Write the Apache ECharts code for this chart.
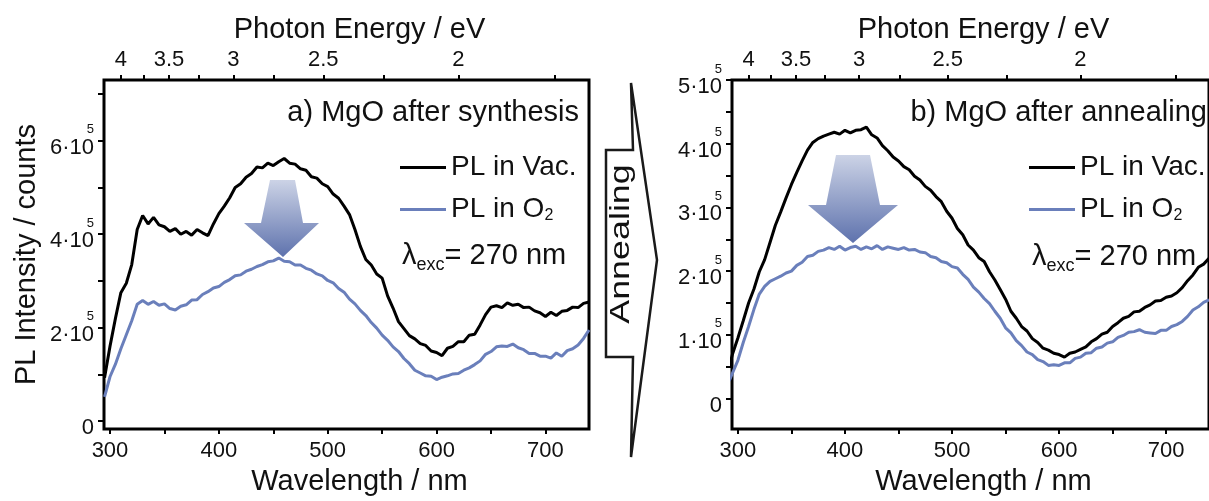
<!DOCTYPE html>
<html>
<head>
<meta charset="utf-8">
<script src="https://cdn.jsdelivr.net/npm/echarts@6/dist/echarts.min.js"></script>
<style>
  html, body { margin: 0; padding: 0; background: #fff; }
  #chart { width: 1209px; height: 501px; }
</style>
</head>
<body>
<div id="chart"></div>
<script>
// wavelength grid (nm), shared by both panels
const waveA = [295, 300, 305, 310, 315, 320, 325, 330, 335, 340, 345, 350, 355, 360, 365, 370, 375, 380, 385, 390,
  395, 400, 405, 410, 415, 420, 425, 430, 435, 440, 445, 450, 455, 460, 465, 470, 475, 480, 485, 490,
  495, 500, 505, 510, 515, 520, 525, 530, 535, 540, 545, 550, 555, 560, 565, 570, 575, 580, 585, 590,
  595, 600, 605, 610, 615, 620, 625, 630, 635, 640, 645, 650, 655, 660, 665, 670, 675, 680, 685, 690,
  695, 700, 705, 710, 715, 720, 725, 730, 735, 740];
const waveB = [292].concat(waveA);

// PL intensity in units of 1e5 counts
// a) after synthesis
const vacA = [0.93, 1.6, 2.2, 2.75, 2.95, 3.35, 4.1, 4.4, 4.22, 4.36, 4.2, 4.16, 4.06, 4.12, 4.0, 4.06, 3.98, 4.1, 4.03, 3.97,
  4.22, 4.44, 4.6, 4.78, 5.0, 5.08, 5.22, 5.3, 5.44, 5.42, 5.52, 5.47, 5.55, 5.62, 5.52, 5.5, 5.4, 5.37, 5.23, 5.2,
  5.08, 5.02, 4.86, 4.77, 4.6, 4.42, 4.1, 3.74, 3.46, 3.34, 3.15, 3.06, 2.68, 2.42, 2.13, 1.98, 1.83, 1.76, 1.66, 1.62,
  1.5, 1.47, 1.4, 1.56, 1.6, 1.7, 1.7, 1.84, 1.86, 2.06, 2.28, 2.44, 2.47, 2.43, 2.53, 2.48, 2.5, 2.43, 2.44, 2.36,
  2.32, 2.24, 2.33, 2.26, 2.35, 2.37, 2.44, 2.43, 2.52, 2.55];
const o2A = [0.52, 0.95, 1.22, 1.55, 1.85, 2.15, 2.5, 2.58, 2.5, 2.56, 2.48, 2.51, 2.41, 2.38, 2.46, 2.49, 2.59, 2.6, 2.71, 2.77,
  2.85, 2.88, 2.97, 3.03, 3.11, 3.13, 3.21, 3.25, 3.31, 3.35, 3.41, 3.43, 3.49, 3.42, 3.41, 3.34, 3.34, 3.27, 3.23, 3.15,
  3.11, 3.01, 2.96, 2.84, 2.76, 2.61, 2.51, 2.37, 2.26, 2.11, 1.99, 1.84, 1.73, 1.59, 1.49, 1.34, 1.23, 1.09, 1.03, 0.97,
  0.96, 0.89, 0.94, 0.97, 1.01, 1.02, 1.09, 1.14, 1.21, 1.29, 1.43, 1.49, 1.59, 1.61, 1.6, 1.65, 1.57, 1.53, 1.45, 1.45,
  1.39, 1.39, 1.35, 1.46, 1.39, 1.51, 1.55, 1.63, 1.77, 1.95];
// b) after annealing
const vacB = [0.5, 0.7, 0.95, 1.22, 1.5, 1.72, 1.99, 2.18, 2.45, 2.72, 2.93, 3.15, 3.36, 3.55, 3.73, 3.9, 4.02, 4.08, 4.12, 4.15, 4.18,
  4.15, 4.21, 4.17, 4.21, 4.22, 4.26, 4.14, 4.09, 3.97, 3.89, 3.79, 3.73, 3.64, 3.59, 3.49, 3.43, 3.33, 3.27, 3.17, 3.09,
  2.94, 2.83, 2.67, 2.57, 2.41, 2.33, 2.21, 2.15, 1.99, 1.86, 1.71, 1.56, 1.37, 1.26, 1.13, 1.06, 0.94, 0.88, 0.79, 0.76,
  0.71, 0.69, 0.65, 0.71, 0.73, 0.77, 0.81, 0.89, 0.94, 1.01, 1.04, 1.13, 1.19, 1.26, 1.29, 1.36, 1.37, 1.43, 1.47, 1.53,
  1.54, 1.59, 1.61, 1.66, 1.74, 1.85, 1.94, 2.06, 2.11, 2.2];
const o2B = [0.28, 0.4, 0.6, 0.88, 1.13, 1.4, 1.64, 1.76, 1.84, 1.88, 1.92, 1.97, 2.0, 2.09, 2.14, 2.23, 2.25, 2.31, 2.33, 2.37, 2.34,
  2.39, 2.33, 2.37, 2.39, 2.34, 2.38, 2.35, 2.4, 2.34, 2.38, 2.36, 2.34, 2.37, 2.33, 2.34, 2.3, 2.29, 2.23, 2.21, 2.15,
  2.13, 2.07, 2.05, 1.95, 1.87, 1.75, 1.67, 1.57, 1.49, 1.37, 1.26, 1.11, 1.03, 0.91, 0.83, 0.73, 0.69, 0.61, 0.58, 0.52,
  0.53, 0.52, 0.56, 0.56, 0.63, 0.65, 0.71, 0.72, 0.79, 0.81, 0.87, 0.89, 0.96, 0.99, 1.04, 1.05, 1.08, 1.04, 1.03, 1.02,
  1.07, 1.07, 1.13, 1.16, 1.21, 1.29, 1.39, 1.44, 1.51, 1.55];

// axis ticks
const waveTicks = [300, 350, 400, 450, 500, 550, 600, 650, 700];
const waveLabels = [300, 400, 500, 600, 700];
const energyLabels = [4, 3.5, 3, 2.5, 2];
const energyMinor = [3.75, 3.25, 2.75, 2.25, 1.75];
const yLabelsA = [0, 2e5, 4e5, 6e5];
const yTicksA = [0, 1e5, 2e5, 3e5, 4e5, 5e5, 6e5, 7e5];
const yLabelsB = [0, 1e5, 2e5, 3e5, 4e5, 5e5];
const yTicksB = [0, 0.5e5, 1e5, 1.5e5, 2e5, 2.5e5, 3e5, 3.5e5, 4e5, 4.5e5, 5e5];

const HC = 1239.84; // eV*nm
const FONT = 'Liberation Sans, Arial, sans-serif';
const BLUE = '#6a7fbb';
const TXT = 29;

const toNm = e => HC / e;
const pairs = (xs, ys) => xs.map((x, i) => [x, ys[i] * 1e5]);

const chart = echarts.init(document.getElementById('chart'));

function bottomAxis(grid) {
  return {
    type: 'value', gridIndex: grid, position: 'bottom', min: 294.5, max: 740,
    name: 'Wavelength / nm', nameLocation: 'middle', nameGap: 35,
    nameTextStyle: { fontFamily: FONT, fontSize: TXT, color: '#111', padding: [0, 0, 0, 26] },
    axisLine: { show: false, onZero: false },
    splitLine: { show: false },
    axisTick: { show: true, inside: false, length: 5, customValues: waveTicks, lineStyle: { color: '#000', width: 2 } },
    axisLabel: { customValues: waveLabels, margin: 11, fontFamily: FONT, fontSize: 22, color: '#111' }
  };
}
function topAxis(grid) {
  return {
    type: 'value', gridIndex: grid, position: 'top', min: 294.5, max: 740,
    name: 'Photon Energy / eV', nameLocation: 'middle', nameGap: 28,
    nameTextStyle: { fontFamily: FONT, fontSize: TXT, color: '#111', padding: [0, 0, 0, 26] },
    axisLine: { show: false, onZero: false },
    splitLine: { show: false },
    axisTick: { show: true, inside: false, length: 5, customValues: energyLabels.concat(energyMinor).map(toNm), lineStyle: { color: '#000', width: 2 } },
    axisLabel: {
      customValues: energyLabels.map(toNm), margin: 9, fontFamily: FONT, fontSize: 22, color: '#111',
      formatter: v => String(Math.round(HC / v * 100) / 100)
    }
  };
}
// "6·10" with a raised 5 above its right end; zero gets a hidden line so all labels stack alike
function expLabel(v) {
  if (v === 0) return '{h|5}\n{a|0}';
  return '{s|5}\n{a|' + (v / 1e5) + '·10}';
}
function leftAxis(grid, min, max, labels, ticks, name) {
  return {
    type: 'value', gridIndex: grid, position: 'left', min: min, max: max,
    name: name, nameLocation: 'middle', nameGap: 63,
    nameTextStyle: { fontFamily: FONT, fontSize: TXT, color: '#111' },
    axisLine: { show: false, onZero: false },
    splitLine: { show: false },
    axisTick: { show: true, inside: false, length: 6, customValues: ticks, lineStyle: { color: '#000', width: 2 } },
    axisLabel: {
      customValues: labels, margin: 10, formatter: expLabel, padding: 0,
      rich: {
        a: { fontFamily: FONT, fontSize: 22, lineHeight: 22, color: '#111' },
        s: { fontFamily: FONT, fontSize: 13, lineHeight: 14, color: '#111' },
        h: { fontFamily: FONT, fontSize: 13, lineHeight: 14, color: 'rgba(0,0,0,0)' }
      }
    }
  };
}
function line(name, color, xi, yi, data) {
  return {
    type: 'line', name: name, xAxisIndex: xi, yAxisIndex: yi, data: data,
    showSymbol: false, symbol: 'none', color: color,
    lineStyle: { color: color, width: 3 }
  };
}
function legendAt(left) {
  return {
    left: left, top: 153, orient: 'vertical', itemGap: 14, padding: 0,
    icon: 'rect', itemWidth: 46, itemHeight: 3, itemStyle: { borderWidth: 0 },
    data: ['PL in Vac.', 'PL in O2'],
    formatter: n => n === 'PL in O2' ? '{t|PL in O}{u|2}' : '{t|' + n + '}',
    textStyle: {
      rich: {
        t: { fontFamily: FONT, fontSize: 28, lineHeight: 29, verticalAlign: 'top', color: '#111' },
        u: { fontFamily: FONT, fontSize: 16, lineHeight: 16, padding: [13, 0, 0, 0], verticalAlign: 'top', color: '#111' }
      }
    }
  };
}
function lambdaText(x, y) {
  return {
    type: 'text', left: x, top: y,
    style: {
      text: '{l|λ}{s|exc}{l|= 270 nm}',
      rich: {
        l: { fontFamily: FONT, fontSize: TXT, lineHeight: 29, verticalAlign: 'top', fill: '#111' },
        s: { fontFamily: FONT, fontSize: 18, lineHeight: 18, padding: [15, 0, 0, 0], verticalAlign: 'top', fill: '#111' }
      }
    }
  };
}
function downArrow(pts) {
  return {
    type: 'polygon',
    shape: { points: pts },
    style: {
      fill: new echarts.graphic.LinearGradient(0, 0, 0, 1, [
        { offset: 0, color: '#ccd3e6' },
        { offset: 1, color: '#5e72ad' }
      ])
    }
  };
}

const option = {
  animation: false,
  backgroundColor: '#fff',
  grid: [
    { left: 104, top: 80, width: 485, height: 360, show: true, borderColor: '#000', borderWidth: 3, backgroundColor: 'transparent' },
    { left: 732, top: 80, width: 485, height: 359, show: true, borderColor: '#000', borderWidth: 3, backgroundColor: 'transparent' }
  ],
  xAxis: [bottomAxis(0), topAxis(0), bottomAxis(1), topAxis(1)],
  yAxis: [
    leftAxis(0, -17000, 730000, yLabelsA, yTicksA, 'PL Intensity / counts'),
    leftAxis(1, -48000, 500000, yLabelsB, yTicksB, '')
  ],
  legend: [legendAt(400), legendAt(1029)],
  series: [
    line('PL in Vac.', '#000', 0, 0, pairs(waveA, vacA)),
    line('PL in O2', BLUE, 0, 0, pairs(waveA, o2A)),
    line('PL in Vac.', '#000', 2, 1, pairs(waveB, vacB)),
    line('PL in O2', BLUE, 2, 1, pairs(waveB, o2B))
  ],
  graphic: [
    { type: 'text', right: 1209 - 579, top: 98, style: { text: 'a) MgO after synthesis', fontFamily: FONT, fontSize: TXT, fill: '#111' } },
    { type: 'text', right: 2, top: 98, style: { text: 'b) MgO after annealing', fontFamily: FONT, fontSize: TXT, fill: '#111' } },
    lambdaText(402, 241),
    lambdaText(1032, 242),
    downArrow([[270, 180], [295, 180], [303, 223], [319, 223], [283, 257], [244, 223], [261, 223]]),
    downArrow([[836, 155], [870, 155], [880, 205], [898, 205], [853, 243], [808, 205], [826, 205]]),
    {
      type: 'polygon',
      shape: { points: [[606, 150], [633, 150], [631, 83], [657, 260], [631, 457], [633, 357], [606, 357]] },
      style: { fill: '#fff', stroke: '#1a1a1a', lineWidth: 2.5, lineJoin: 'miter' }
    },
    {
      type: 'text', x: 621, y: 244, rotation: Math.PI / 2, scaleX: 1.28,
      style: { text: 'Annealing', fontFamily: FONT, fontSize: 28, fill: '#111', align: 'center', verticalAlign: 'middle' }
    }
  ]
};
chart.setOption(option);
</script>
</body>
</html>
